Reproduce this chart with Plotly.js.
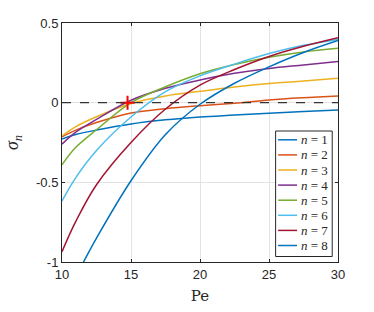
<!DOCTYPE html>
<html>
<head>
<meta charset="utf-8">
<script src="https://cdn.plot.ly/plotly-3.0.1.min.js"></script>
<style>html,body{margin:0;padding:0;background:#fff;}#chart{width:374px;height:312px;}</style>
</head>
<body>
<div id="chart"></div>
<script>
// Pe sample positions
const pe = [10, 11, 12.5, 15, 17.5, 20, 22.5, 25, 27.5, 30];
const peN8 = [11.5, 12.5, 15, 17.5, 20, 22.5, 25, 27.5, 30];
// growth rates sigma_n
const sigma1 = [-0.228, -0.200, -0.172, -0.134, -0.108, -0.090, -0.078, -0.066, -0.055, -0.046];
const sigma2 = [-0.214, -0.172, -0.125, -0.065, -0.038, -0.019, -0.003, 0.017, 0.031, 0.042];
const sigma3 = [-0.209, -0.150, -0.088, -0.005, 0.042, 0.071, 0.098, 0.120, 0.136, 0.154];
const sigma4 = [-0.260, -0.185, -0.105, 0.015, 0.090, 0.142, 0.184, 0.215, 0.237, 0.259];
const sigma5 = [-0.390, -0.280, -0.170, 0.000, 0.100, 0.182, 0.240, 0.285, 0.318, 0.341];
const sigma6 = [-0.617, -0.470, -0.300, -0.090, 0.069, 0.168, 0.242, 0.308, 0.360, 0.397];
const sigma7 = [-0.935, -0.745, -0.515, -0.250, -0.040, 0.110, 0.208, 0.290, 0.354, 0.408];
const sigma8 = [-1.010, -0.850, -0.490, -0.200, -0.010, 0.122, 0.225, 0.315, 0.390];
const seriesNames = ["1", "2", "3", "4", "5", "6", "7", "8"];
const critPe = [14.75];
const critSigma = [0];
const xTicks = [10, 15, 20, 25, 30];
const yTicks = [-1, -0.5, 0, 0.5];
const yTickText = ["-1", "-0.5", "0", "0.5"];

const colors = ["#0072BD", "#D95319", "#EDB120", "#7E2F8E", "#77AC30", "#4DBEEE", "#A2142F", "#0072BD"];
const allY = [sigma1, sigma2, sigma3, sigma4, sigma5, sigma6, sigma7, sigma8];

const traces = allY.map((ys, i) => ({
  x: i === 7 ? peN8 : pe,
  y: ys,
  type: "scatter",
  mode: "lines",
  line: {color: colors[i], width: 1.5, shape: "spline", smoothing: 1.0},
  name: "n = " + seriesNames[i],
  showlegend: false,
  hoverinfo: "skip"
}));

traces.push({
  x: critPe, y: critSigma, type: "scatter", mode: "markers",
  marker: {symbol: "cross-thin", size: 10, color: "red", line: {color: "red", width: 2}},
  showlegend: false, hoverinfo: "skip"
});

const axisCommon = {
  showline: true, linecolor: "#262626", linewidth: 1, mirror: "ticks",
  ticks: "inside", ticklen: 3, tickcolor: "#262626",
  showgrid: true, gridcolor: "#e3e3e3", gridwidth: 1, zeroline: false,
  tickfont: {family: "Liberation Sans, Arial, sans-serif", size: 13, color: "#262626"}
};

// Legend box (MATLAB style), drawn with shapes + annotations
const plotL = 62, plotR = 338.5, plotT = 23, plotB = 262;
const px2x = p => (p - plotL) / (plotR - plotL);
const py2y = p => (plotB - p) / (plotB - plotT);
const shapes = [{
  type: "line", xref: "paper", x0: 0, x1: 1, yref: "y", y0: 0, y1: 0,
  line: {color: "#333", width: 1.3, dash: "dash"}
}, {
  type: "rect", xref: "paper", yref: "paper",
  x0: px2x(276), x1: px2x(332.7), y0: py2y(256.5), y1: py2y(131),
  line: {color: "#262626", width: 1}, fillcolor: "#fff", layer: "above"
}];
const annotations = [];
seriesNames.forEach((nm, i) => {
  const rowY = 139.8 + 15.1 * i;
  shapes.push({
    type: "line", xref: "paper", yref: "paper",
    x0: px2x(278.5), x1: px2x(297.5), y0: py2y(rowY), y1: py2y(rowY),
    line: {color: colors[i], width: 1.5}, layer: "above"
  });
  annotations.push({
    xref: "paper", yref: "paper", x: px2x(299.5), y: py2y(rowY),
    xanchor: "left", yanchor: "middle", showarrow: false,
    text: "<i>n</i> = " + nm,
    font: {family: "Liberation Serif, serif", size: 13, color: "#262626"}
  });
});

const layout = {
  width: 374, height: 312,
  margin: {l: 62, r: 35.5, t: 23, b: 50},
  paper_bgcolor: "#fff", plot_bgcolor: "#fff",
  xaxis: Object.assign({}, axisCommon, {
    range: [10, 30], tickvals: xTicks, ticktext: xTicks.map(String),
    title: {text: "Pe", font: {family: "DejaVu Serif, Liberation Serif, serif", size: 15, color: "#262626"}, standoff: 9}
  }),
  yaxis: Object.assign({}, axisCommon, {
    range: [-1, 0.5], tickvals: yTicks, ticktext: yTickText,
    title: {text: "<i>σ</i><sub><i>n</i></sub>", font: {family: "Liberation Serif, serif", size: 18, color: "#262626"}, standoff: 12}
  }),
  shapes: shapes,
  annotations: annotations,
  showlegend: false
};

Plotly.newPlot("chart", traces, layout, {staticPlot: true, displayModeBar: false});
</script>
</body>
</html>
